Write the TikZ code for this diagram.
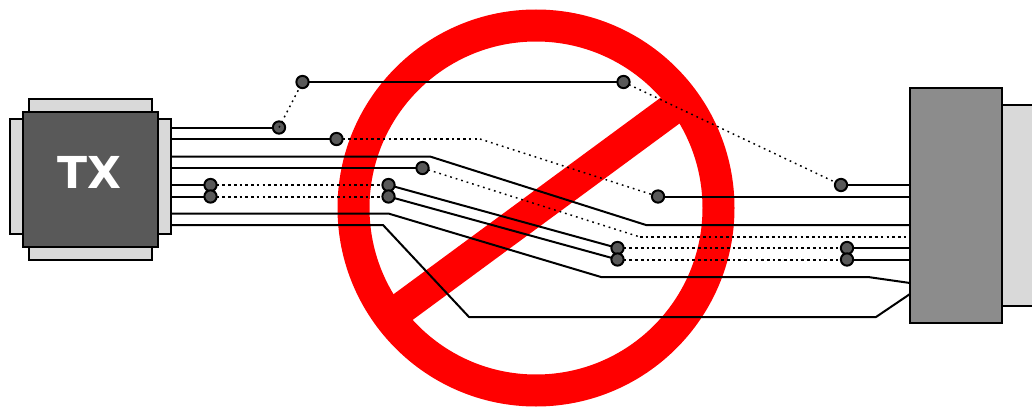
\documentclass[tikz,border=0pt]{standalone}
\usepackage{fontspec}
\setmainfont{DejaVu Sans}
\tikzset{
  wire/.style={draw=black,line width=1.5pt,line join=round},
  dots/.style={draw=black,line width=1.5pt,dash pattern=on 2pt off 2.3pt},
  fine/.style={draw=black,line width=1.1pt,dash pattern=on 1.3pt off 3pt},
  via/.style={circle,draw=black,line width=1.5pt,fill=viagray,minimum size=9.2pt,inner sep=0pt,outer sep=0pt},
  pad/.style={draw=black,line width=1.5pt,fill=padgray},
  chip/.style={draw=black,line width=1.5pt,fill=viagray,outer sep=0pt},
  nosign/.style={draw=signred,line width=24pt}
}
\definecolor{viagray}{HTML}{595959}
\definecolor{padgray}{HTML}{D9D9D9}
\definecolor{conn}{HTML}{8C8C8C}
\definecolor{signred}{HTML}{FF0000}
\begin{document}
\begin{tikzpicture}[x=0.75pt,y=-0.75pt]
\useasboundingbox (0,0) rectangle (1032,407);
% prohibition sign
\coordinate (signc) at (536,208);
\draw[nosign] (signc) circle [radius=182.5];
\draw[nosign] (393,314.5) -- (679,104);
% TX chip
\draw[pad] (29,99) rectangle (152,112);
\draw[pad] (29,247) rectangle (152,260);
\draw[pad] (10,118.5) rectangle (22.5,234);
\draw[pad] (158,118.5) rectangle (171,234);
\node[chip,minimum width=101.6pt,minimum height=101.5pt,inner sep=0pt,anchor=north west] (tx) at (22.5,111.7) {};
\node[text=white,font=\bfseries\fontsize{33pt}{33pt}\selectfont,inner sep=0pt] (txlabel) at (89,172.5) {TX};
% receiver
\draw[pad] (1002,105) rectangle (1040,306);
\node[chip,fill=conn,minimum width=69pt,minimum height=176.5pt,inner sep=0pt,anchor=north west] (rx) at (910,87.5) {};
% vias
\node[via] (a1) at (279,127.5) {};
\node[via] (a2) at (302.5,82) {};
\node[via] (a3) at (623.5,82) {};
\node[via] (a4) at (841,185) {};
\node[via] (b1) at (336.5,139) {};
\node[via] (b2) at (658,196.5) {};
\node[via] (d1) at (422.5,168) {};
\node[via] (e1) at (210.5,185) {};
\node[via] (e2) at (388.5,185) {};
\node[via] (e3) at (617.5,248) {};
\node[via] (e4) at (847,248) {};
\node[via] (f1) at (210.5,196.5) {};
\node[via] (f2) at (388.5,196.5) {};
\node[via] (f3) at (617.5,259.5) {};
\node[via] (f4) at (847,259.5) {};
% pins and bends
\foreach \n/\y in {a/127.5,b/139,c/156.5,d/168,e/185,f/196.5,g/213.7,h/225}
  \coordinate (tx\n) at (171,\y);
\foreach \n/\y in {a/185,b/196.5,c/225,d/237,e/248,f/259.5,g/283,h/294}
  \coordinate (rx\n) at (910,\y);
\coordinate (bb) at (480,139);
\coordinate (c1) at (430,156.5);
\coordinate (c2) at (646,225);
\coordinate (d2) at (640,237);
\coordinate (g1) at (389,213.7);
\coordinate (g2) at (601,277);
\coordinate (g3) at (868,277);
\coordinate (h1) at (383,225);
\coordinate (h2) at (469,317);
\coordinate (h3) at (876,317);
% trace a
\draw[wire] (txa) -- (a1);
\draw[fine] (a1.center) -- (a2);
\draw[wire] (a2) -- (a3);
\draw[fine] (a3) -- (a4);
\draw[wire] (a4) -- (rxa);
% trace b
\draw[wire] (txb) -- (b1);
\draw[dots] (b1) -- (bb);
\draw[fine] (bb) -- (b2);
\draw[wire] (b2) -- (rxb);
% trace c
\draw[wire] (txc) -- (c1) -- (c2) -- (rxc);
% trace d
\draw[wire] (txd) -- (d1);
\draw[fine] (d1) -- (d2);
\draw[dots] (d2) -- (rxd);
% traces e, f
\draw[wire] (txe) -- (e1);
\draw[dots] (e1) -- (e2);
\draw[wire] (e2) -- (e3);
\draw[dots] (e3) -- (e4);
\draw[wire] (e4) -- (rxe);
\draw[wire] (txf) -- (f1);
\draw[dots] (f1) -- (f2);
\draw[wire] (f2) -- (f3);
\draw[dots] (f3) -- (f4);
\draw[wire] (f4) -- (rxf);
% traces g, h
\draw[wire] (txg) -- (g1) -- (g2) -- (g3) -- (rxg);
\draw[wire] (txh) -- (h1) -- (h2) -- (h3) -- (rxh);
\end{tikzpicture}
\end{document}
